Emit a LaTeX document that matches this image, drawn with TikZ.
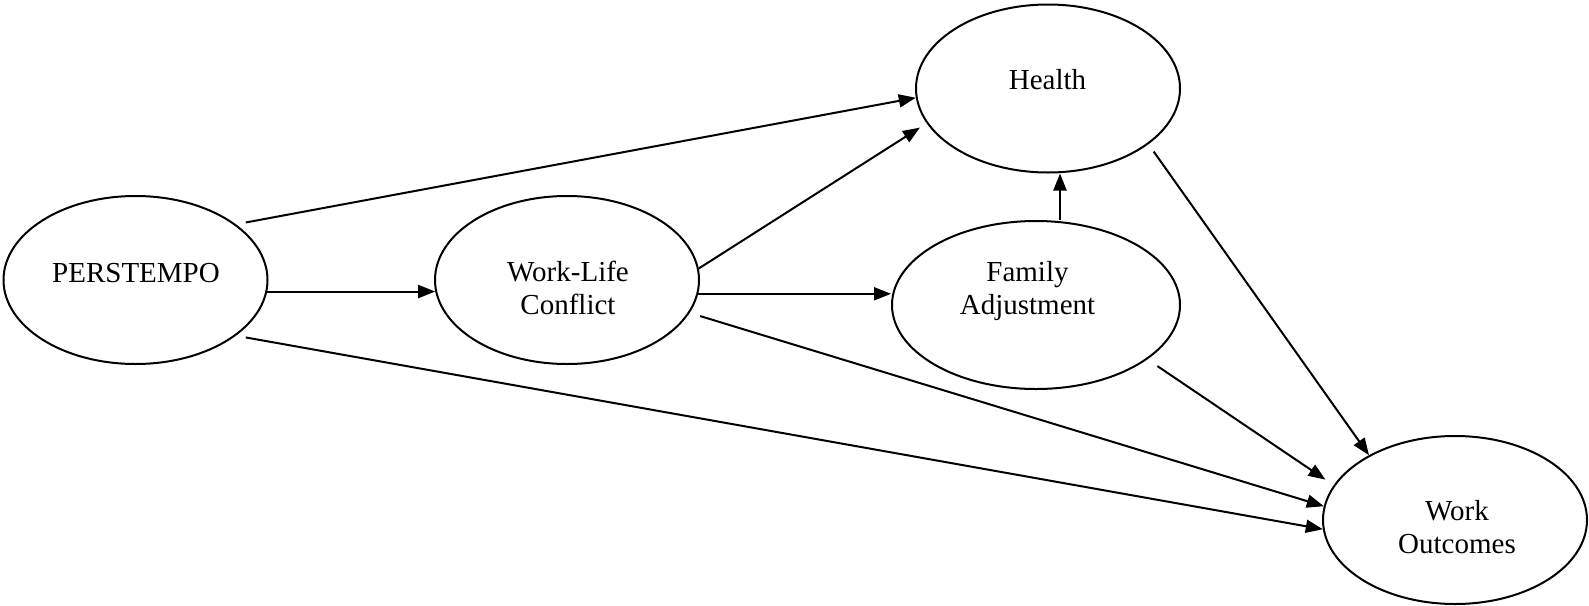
\documentclass[tikz,border=0pt]{standalone}
\usepackage{fontspec}
\setmainfont{Liberation Serif}
\usetikzlibrary{arrows.meta,shapes.geometric}
\begin{document}
\begin{tikzpicture}[x=0.5pt,y=-0.5pt,
  latent/.style={ellipse, draw, line width=1pt, inner sep=0pt, minimum width=132pt, minimum height=84pt},
  lbl/.style={font=\fontsize{14.5}{16.5}\selectfont, align=center, anchor=base, inner sep=0pt},
  arr/.style={-{Triangle[length=8.5pt,width=6.5pt]}, line width=1pt}]
\path[use as bounding box] (0,0) rectangle (1589,605);
\node[latent] (pers) at (135.5,280) {};
\node[latent] (wlc) at (567,280) {};
\node[latent] (health) at (1048,88.5) {};
\node[latent, minimum width=144pt] (fam) at (1036,305) {};
\node[latent] (wo) at (1455,520) {};
\node[lbl] (perst) at (136,282) {PERSTEMPO};
\node[lbl] (wlct) at (568,314) {Work-Life\\Conflict};
\node[lbl] (healtht) at (1047.5,89) {Health};
\node[lbl] (famt) at (1027.5,314) {Family\\Adjustment};
\node[lbl] (wot) at (1457,553) {Work\\Outcomes};
\draw[arr, shorten <=5pt] (pers.29.6) -- (health.184.5);
\draw[arr] (pers.-5.7) -- (wlc.185.7);
\draw[arr, shorten <=5pt] (pers.-29.6) -- (wo.184.3);
\draw[arr, shorten >=4pt] (wlc.5.2) -- (health.196.1);
\draw[arr] (wlc.-6.1) -- (wlc.-6.1 -| fam.west);
\draw[arr, shorten <=5.5pt] (wlc.-15.3) -- (wo.174.8);
\draw[arr] ([xshift=12pt]fam.north) -- ([xshift=12pt]fam.north |- health.south);
\draw[arr, shorten <=6pt, shorten >=5pt] (fam.-26.6) -- (wo.164.3);
\draw[arr, shorten <=4.5pt] (health.-29.1) -- (wo.143.9);
\end{tikzpicture}
\end{document}
